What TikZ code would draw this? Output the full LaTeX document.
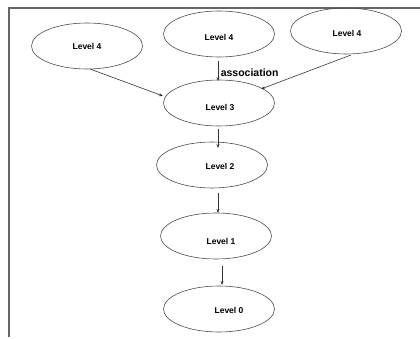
\documentclass[tikz,border=0pt]{standalone}
\usepackage{fontspec}
\setmainfont{Liberation Sans}
\usetikzlibrary{arrows.meta,shapes.geometric}
\begin{document}
\begin{tikzpicture}[x=1pt,y=-1pt,
  lvl/.style={draw=black!70,line width=0.6pt,ellipse,minimum width=111pt,minimum height=46pt,inner sep=0pt},
  lbl/.style={font=\bfseries\fontsize{8.5}{10}\selectfont},
  conn/.style={draw=black!80,line width=0.6pt,-{Stealth[length=4pt,width=3pt]}}]
\useasboundingbox (0,0) rectangle (420,339);
% frame edges
\draw[black!60,line width=1.1pt] (9,337) -- (9,8) -- (420,8);
% level ellipses
\node[lvl] (a) at (87,46) {};
\node[lvl] (b) at (219,34) {};
\node[lvl] (c) at (346,31) {};
\node[lvl] (l3) at (219,103) {};
\node[lvl] (l2) at (212,165) {};
\node[lvl] (l1) at (216,236) {};
\node[lvl] (l0) at (219,309) {};
% labels
\node[lbl] at (87,46) {Level 4};
\node[lbl] at (219,37) {Level 4};
\node[lbl] at (347,33) {Level 4};
\node[lbl] at (220,107) {Level 3};
\node[lbl] at (220,166) {Level 2};
\node[lbl] at (221,241) {Level 1};
\node[lbl] at (229,310) {Level 0};
% connectors
\coordinate (a1) at (90,69);
\coordinate (a2) at (163,96);
\coordinate (b1) at (218,61);
\coordinate (b2) at (218,81);
\coordinate (c1) at (351,55);
\coordinate (c2) at (261,89);
\coordinate (d1) at (218,129);
\coordinate (d2) at (218,148);
\coordinate (e1) at (218,193);
\coordinate (e2) at (218,213);
\coordinate (f1) at (222,266);
\coordinate (f2) at (222,285);
\draw[conn] (a1) -- (a2);
\draw[conn] (b1) -- node[right,inner sep=2.5pt,font=\bfseries\fontsize{10.5}{12}\selectfont,yshift=-2pt]{association} (b2);
\draw[conn] (c1) -- (c2);
\draw[conn] (d1) -- (d2);
\draw[conn] (e1) -- (e2);
\draw[conn] (f1) -- (f2);
\end{tikzpicture}
\end{document}
